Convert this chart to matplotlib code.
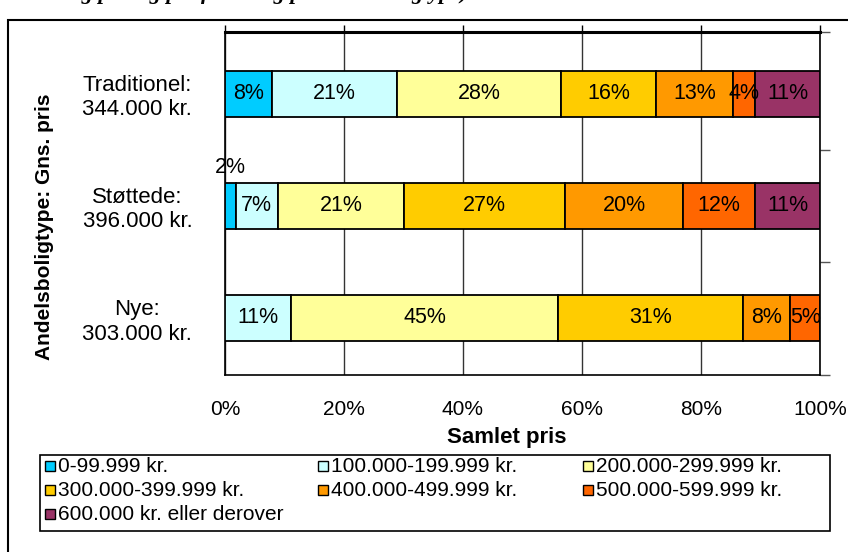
import numpy as np
import matplotlib
matplotlib.use("Agg")
import matplotlib.pyplot as plt
from matplotlib.patches import Rectangle

plt.rcParams['font.family'] = ['Liberation Sans', 'DejaVu Sans']

# data (shares in %) and the printed labels
categories = ['Traditionel:\n344.000 kr.', 'Støttede:\n396.000 kr.', 'Nye:\n303.000 kr.']
series = ['0-99.999 kr.', '100.000-199.999 kr.', '200.000-299.999 kr.',
          '300.000-399.999 kr.', '400.000-499.999 kr.', '500.000-599.999 kr.',
          '600.000 kr. eller derover']
shares = [
    [7.9, 21.0, 27.6, 16.0, 12.9, 3.7, 10.9],   # Traditionel
    [1.8, 7.1, 21.2, 27.1, 19.8, 12.1, 10.9],   # Støttede
    [0.0, 11.1, 44.9, 31.1, 7.9, 5.0, 0.0],     # Nye
]
labels = [
    [8, 21, 28, 16, 13, 4, 11],
    [2, 7, 21, 27, 20, 12, 11],
    [None, 11, 45, 31, 8, 5, None],
]
colors = ['#00CCFF', '#CCFFFF', '#FFFF99', '#FFCC00', '#FF9900', '#FF6600', '#993366']

W, H = 848, 552
fig = plt.figure(figsize=(W / 100, H / 100), dpi=100)

def fx(px):
    return px / W

def fy(py):
    return 1 - py / H

ax = fig.add_axes([fx(225), fy(375), fx(820) - fx(225), fy(32) - fy(375)])

shares = np.array(shares)
ypos = np.arange(len(categories))
left = np.zeros(len(categories))
for j, name in enumerate(series):
    vals = shares[:, j]
    ax.barh(ypos, vals, left=left, height=0.41, color=colors[j],
            edgecolor='black', linewidth=1.3, label=name, zorder=3)
    for i in range(len(categories)):
        lab = labels[i][j]
        if lab is None:
            continue
        if vals[i] < 3:
            # too narrow: label sits above the bar
            ax.text(left[i] + vals[i] / 2, ypos[i] - 0.34, f'{lab}%',
                    ha='center', va='center', fontsize=15.5, zorder=4)
        else:
            ax.text(left[i] + vals[i] / 2, ypos[i], f'{lab}%',
                    ha='center', va='center', fontsize=15.5, zorder=4)
    left += vals

ax.set_xlim(0, 100)
ax.set_ylim(2.51, -0.55)
ax.set_xticks(np.arange(0, 101, 20))
ax.set_xticklabels([f'{v}%' for v in range(0, 101, 20)], fontsize=15)
ax.grid(axis='x', color='#333333', linewidth=1.0, zorder=0)
ax.tick_params(axis='x', which='major', bottom=False, top=True, labelbottom=True,
               labeltop=False, direction='out', length=5, width=1, pad=13)

ax.set_yticks(ypos)
ax.set_yticklabels(categories, fontsize=16, multialignment='center')
ax.tick_params(axis='y', which='major', left=False, pad=20)
ax.set_yticks([-0.55, 0.5, 1.5, 2.51], minor=True)
ax.tick_params(axis='y', which='minor', left=False, right=True, direction='out',
               length=7, width=1, color='#555555')

for s in ['left', 'right', 'bottom']:
    ax.spines[s].set_linewidth(1.2)
ax.spines['top'].set_linewidth(2.2)

fig.text(fx(507), fy(437), 'Samlet pris', ha='center', va='center',
         fontsize=16, fontweight='bold')
fig.text(fx(45), fy(227), 'Andelsboligtype: Gns. pris', ha='center', va='center',
         rotation=90, fontsize=15, fontweight='bold')

# cropped title
fig.text(fx(468), fy(-1), '(Gennemsnitlig pris og prisfordeling på andelsboligtype)',
         ha='right', va='baseline', fontsize=16, fontweight='bold', style='italic',
         family='Liberation Serif')

# outer chart border
fig.patches.append(Rectangle((fx(8), fy(600)), 1.2, fy(20) - fy(600), fill=False,
                             edgecolor='black', linewidth=1.5, transform=fig.transFigure))

# legend
fig.patches.append(Rectangle((fx(40), fy(531)), fx(830) - fx(40), fy(455) - fy(531),
                             fill=False, edgecolor='black', linewidth=1.2,
                             transform=fig.transFigure))
col_x = [45, 318, 583]
row_y = [466, 490, 514]
for k, name in enumerate(series):
    r, c = divmod(k, 3)
    x0, y0 = col_x[c], row_y[r]
    fig.patches.append(Rectangle((fx(x0), fy(y0 + 5)), fx(10), fy(y0 - 5) - fy(y0 + 5),
                                 facecolor=colors[k], edgecolor='black', linewidth=1,
                                 transform=fig.transFigure))
    fig.text(fx(x0 + 13), fy(y0), name, ha='left', va='center', fontsize=15)

fig.savefig('out.png', dpi=100)
